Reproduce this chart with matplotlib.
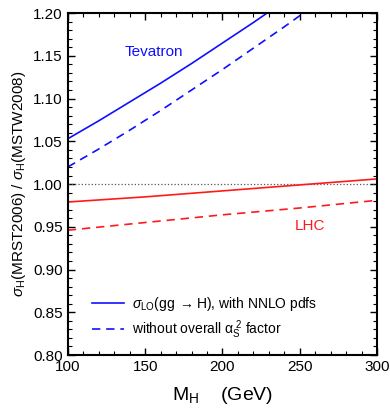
import matplotlib
matplotlib.use('Agg')
import matplotlib.pyplot as plt
from matplotlib.ticker import MultipleLocator

plt.rcParams['font.family'] = ['Liberation Sans', 'DejaVu Sans']
plt.rcParams['mathtext.fontset'] = 'custom'
plt.rcParams['mathtext.rm'] = 'Liberation Sans'
plt.rcParams['mathtext.it'] = 'Liberation Sans:italic'
plt.rcParams['mathtext.sf'] = 'Liberation Sans'

# Tevatron curves
mh_tev = [100, 120, 140, 160, 180, 200, 220, 240, 260]
tev_solid = [1.053, 1.074, 1.096, 1.118, 1.141, 1.165, 1.189, 1.214, 1.240]
tev_dashed = [1.020, 1.041, 1.063, 1.086, 1.110, 1.134, 1.159, 1.184, 1.210]

# LHC curves
mh_lhc = [100, 150, 200, 250, 300]
lhc_solid = [0.979, 0.985, 0.992, 0.999, 1.006]
lhc_dashed = [0.946, 0.955, 0.964, 0.972, 0.981]

fig = plt.figure(figsize=(3.9, 4.09), dpi=100)
ax = fig.add_axes([0.174, 0.132, 0.793, 0.836])

ax.axhline(1.0, color='#555555', ls=':', lw=0.9)
l1, = ax.plot(mh_tev, tev_solid, color='#1010ff', lw=1.2)
l2, = ax.plot(mh_tev, tev_dashed, color='#1010ff', lw=1.2, ls=(0, (5, 3.5)))
ax.plot(mh_lhc, lhc_solid, color='#ff1a1a', lw=1.2)
ax.plot(mh_lhc, lhc_dashed, color='#ff1a1a', lw=1.2, ls=(0, (5, 3.5)))

ax.set_xlim(100, 300)
ax.set_ylim(0.80, 1.20)
ax.xaxis.set_major_locator(MultipleLocator(50))
ax.xaxis.set_minor_locator(MultipleLocator(10))
ax.yaxis.set_major_locator(MultipleLocator(0.05))
ax.yaxis.set_minor_locator(MultipleLocator(0.01))
ax.yaxis.set_major_formatter(plt.FormatStrFormatter('%.2f'))
ax.tick_params(which='both', direction='in', top=True, right=True, labelsize=11)
ax.tick_params(which='major', length=5, width=1)
ax.tick_params(which='minor', length=3, width=0.8)
for s in ax.spines.values():
    s.set_linewidth(1.5)

ax.text(0.184, 0.886, 'Tevatron', color='#1010ff', fontsize=11, va='center',
        transform=ax.transAxes)
ax.text(0.735, 0.377, 'LHC', color='#ff1a1a', fontsize=11, va='center',
        transform=ax.transAxes)

ax.legend([l1, l2],
          [r'$\sigma_{\rm LO}$(gg $\rightarrow$H), with NNLO pdfs',
           r'without overall α$_{\rm S}^{\ 2}$ factor'],
          loc='lower left', bbox_to_anchor=(0.06, 0.025), frameon=False,
          fontsize=10, handlelength=2.3, handletextpad=0.55, labelspacing=0.4,
          borderaxespad=0)

ax.set_ylabel(r'$\sigma_{\rm H}$(MRST2006) / $\sigma_{\rm H}$(MSTW2008)', fontsize=11)
ax.set_xlabel(r'M$_{\rm H}$    (GeV)', fontsize=14, labelpad=8)

fig.savefig('out.png', dpi=100)
